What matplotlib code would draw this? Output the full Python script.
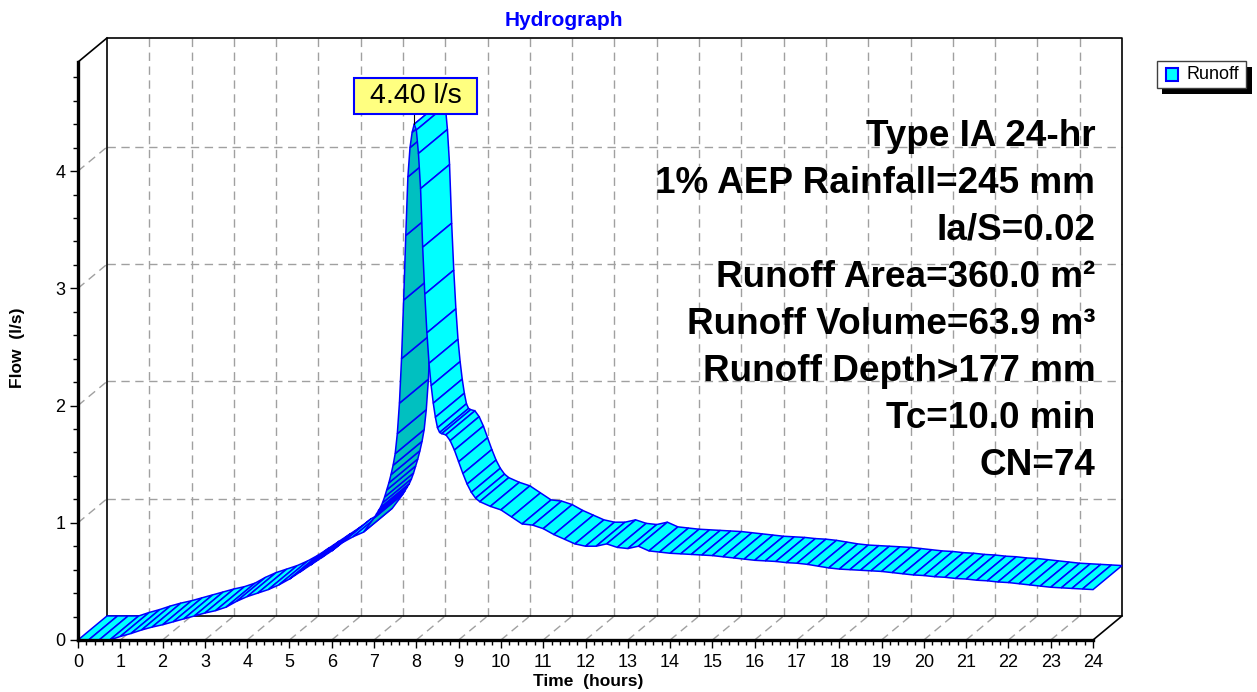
import numpy as np
import matplotlib.pyplot as plt
from matplotlib.patches import Polygon, Rectangle
from matplotlib.ticker import FixedLocator

plt.rcParams['font.family'] = ['Liberation Sans', 'DejaVu Sans']

# runoff hydrograph
time_hr = [0.0, 0.25, 0.5, 0.75, 1.0, 1.25, 1.5, 1.75, 2.0, 2.25, 2.5, 2.75,
           3.0, 3.25, 3.5, 3.75, 4.0, 4.25, 4.5, 4.75, 5.0, 5.25, 5.5, 5.75,
           6.0, 6.25, 6.5, 6.75,
           7.0, 7.05, 7.1, 7.15, 7.2, 7.25, 7.3, 7.35, 7.4, 7.45, 7.5, 7.55,
           7.6, 7.65, 7.7, 7.75, 7.8, 7.85, 7.9, 7.95, 8.0, 8.05, 8.1, 8.15,
           8.2, 8.25, 8.3, 8.35, 8.4, 8.45, 8.5, 8.55,
           8.6, 8.7, 8.8, 8.9, 9.0, 9.1, 9.2, 9.3, 9.4,
           9.5, 9.75, 10.0, 10.25, 10.5, 10.75, 11.0, 11.25, 11.5, 11.75,
           12.0, 12.25, 12.5, 12.75, 13.0, 13.25, 13.5, 13.75, 14.0, 14.25,
           14.5, 14.75, 15.0, 15.25, 15.5, 15.75, 16.0, 16.25, 16.5, 16.75,
           17.0, 17.25, 17.5, 17.75, 18.0, 18.25, 18.5, 18.75, 19.0, 19.25,
           19.5, 19.75, 20.0, 20.25, 20.5, 20.75, 21.0, 21.25, 21.5, 21.75,
           22.0, 22.25, 22.5, 22.75, 23.0, 23.25, 23.5, 23.75, 24.0]
flow_ls = [0.0, 0.0, 0.0, 0.0, 0.03, 0.055, 0.085, 0.11, 0.13, 0.155, 0.18, 0.205,
           0.23, 0.25, 0.28, 0.33, 0.37, 0.40, 0.43, 0.47, 0.52, 0.58, 0.64, 0.70,
           0.76, 0.83, 0.88, 0.92,
           1.04, 1.07, 1.10, 1.13, 1.17, 1.22, 1.28, 1.34, 1.41, 1.49, 1.59, 1.76,
           2.02, 2.40, 2.90, 3.45, 3.95, 4.20, 4.33, 4.40, 4.35, 4.15, 3.85, 3.35,
           2.95, 2.62, 2.36, 2.17, 2.02, 1.90, 1.81, 1.77,
           1.76, 1.75, 1.70, 1.62, 1.52, 1.42, 1.33, 1.26, 1.21,
           1.18, 1.14, 1.11, 1.05, 0.99, 0.98, 0.95, 0.90, 0.86, 0.82,
           0.80, 0.80, 0.82, 0.79, 0.78, 0.80, 0.76, 0.75, 0.74, 0.735,
           0.73, 0.725, 0.72, 0.71, 0.70, 0.69, 0.68, 0.675, 0.67, 0.66,
           0.655, 0.645, 0.63, 0.615, 0.605, 0.60, 0.595, 0.59, 0.585, 0.575,
           0.565, 0.555, 0.55, 0.54, 0.535, 0.525, 0.52, 0.51, 0.505, 0.495,
           0.49, 0.48, 0.47, 0.46, 0.45, 0.445, 0.44, 0.435, 0.43]

notes = ['Type IA 24-hr', '1% AEP Rainfall=245 mm', 'Ia/S=0.02',
         'Runoff Area=360.0 m²', 'Runoff Volume=63.9 m³',
         'Runoff Depth>177 mm', 'Tc=10.0 min', 'CN=74']

T_END = 24
Q_TOP = 4.93
DX, DY = 0.685, 0.205   # depth shift for the fake 3d look

fig = plt.figure(figsize=(12.57, 6.92), dpi=100)
ax = fig.add_axes([78 / 1257, 52 / 692, 1044 / 1257, 602 / 692])
ax.set_xlim(0, T_END + DX)
ax.set_ylim(0, Q_TOP + DY)

grid = dict(color='#a0a0a0', lw=1.0, ls=(0, (6, 4)), zorder=1, clip_on=False)
frame = dict(color='black', lw=1.2, zorder=2, clip_on=False)

# back wall + floor grid
for h in range(1, T_END):
    ax.plot([h + DX, h + DX], [DY, Q_TOP + DY], **grid)
    ax.plot([h, h + DX], [0, DY], **grid)
for q in range(1, 5):
    ax.plot([DX, T_END + DX], [q + DY, q + DY], **grid)
    ax.plot([0, DX], [q, q + DY], **grid)

ax.plot([DX, DX, T_END + DX, T_END + DX, DX], [DY, Q_TOP + DY, Q_TOP + DY, DY, DY], **frame)
ax.plot([0, DX], [Q_TOP, Q_TOP + DY], **frame)
ax.plot([T_END, T_END + DX], [0, DY], **frame)

# ribbon, dark where we see the underside
t = np.array(time_hr)
q = np.array(flow_ls)
for i in range(len(t) - 1):
    dt = t[i + 1] - t[i]
    dq = q[i + 1] - q[i]
    fc = '#00c0c0' if dq * DX > dt * DY else '#00ffff'
    quad = [(t[i], q[i]), (t[i + 1], q[i + 1]),
            (t[i + 1] + DX, q[i + 1] + DY), (t[i] + DX, q[i] + DY)]
    ax.add_patch(Polygon(quad, closed=True, fc=fc, ec='#0000ff', lw=1.1,
                         zorder=3, clip_on=False))

# front axes
for s in ['top', 'right']:
    ax.spines[s].set_visible(False)
ax.spines['left'].set_bounds(0, Q_TOP)
ax.spines['bottom'].set_bounds(0, T_END)
ax.spines['left'].set_linewidth(2.4)
ax.spines['bottom'].set_linewidth(2.4)
ax.spines['left'].set_zorder(4)
ax.spines['bottom'].set_zorder(4)

ax.xaxis.set_major_locator(FixedLocator(range(0, T_END + 1)))
ax.xaxis.set_minor_locator(FixedLocator(np.arange(0, T_END + 0.01, 0.2)))
ax.yaxis.set_major_locator(FixedLocator(range(0, 5)))
ax.yaxis.set_minor_locator(FixedLocator(np.arange(0, 4.81, 0.2)))
ax.tick_params(which='major', length=6, width=1, labelsize=13)
ax.tick_params(which='minor', length=3.5, width=1)
ax.tick_params(axis='x', pad=4)
ax.tick_params(axis='y', pad=3)

# peak label
ip = int(np.argmax(q))
tp, qp = t[ip], q[ip]
box_w, box_h = 2.93, 0.30
bx, by = tp + 0.03, qp + 0.24
ax.plot([tp, tp], [qp, by - box_h / 2], color='black', lw=0.8, zorder=5, clip_on=False)
ax.add_patch(Rectangle((bx - box_w / 2, by - box_h / 2), box_w, box_h, fc='#ffff80',
                       ec='#0000ff', lw=1.5, zorder=6, clip_on=False))
ax.text(bx, by, f'{qp:.2f} l/s', ha='center', va='center', fontsize=20.5, zorder=7)

# storm notes
for k, s in enumerate(notes):
    ax.text(24.05, 4.215 - k * 0.401, s, ha='right', va='baseline',
            fontsize=26.6, fontweight='bold', zorder=7)

fig.text(0.4486, 0.9624, 'Hydrograph', ha='center', va='baseline',
         fontsize=15, fontweight='bold', color='#0000ff')
fig.text(0.4678, 0.0145, 'Time  (hours)', ha='center', va='center',
         fontsize=12.5, fontweight='bold')
fig.text(0.0143, 0.497, 'Flow  (l/s)', ha='center', va='center', rotation=90,
         fontsize=12.5, fontweight='bold')

# legend with hard shadow
lx, ly, lw_, lh = 1156.7 / 1257, (692 - 88.3) / 692, 89.3 / 1257, 27.3 / 692
fig.patches.append(Rectangle((lx + 5.7 / 1257, ly - 5.7 / 692), lw_, lh, fc='black',
                             ec='none', transform=fig.transFigure, figure=fig))
fig.patches.append(Rectangle((lx, ly), lw_, lh, fc='white', ec='#404040', lw=1,
                             transform=fig.transFigure, figure=fig))
fig.patches.append(Rectangle((1166 / 1257, (692 - 81) / 692), 12 / 1257, 13 / 692,
                             fc='#00ffff', ec='#0000ff', lw=1.5,
                             transform=fig.transFigure, figure=fig))
fig.text(1186 / 1257, (692 - 74.7) / 692, 'Runoff', ha='left', va='center', fontsize=13)

fig.savefig('out.png', dpi=100)
